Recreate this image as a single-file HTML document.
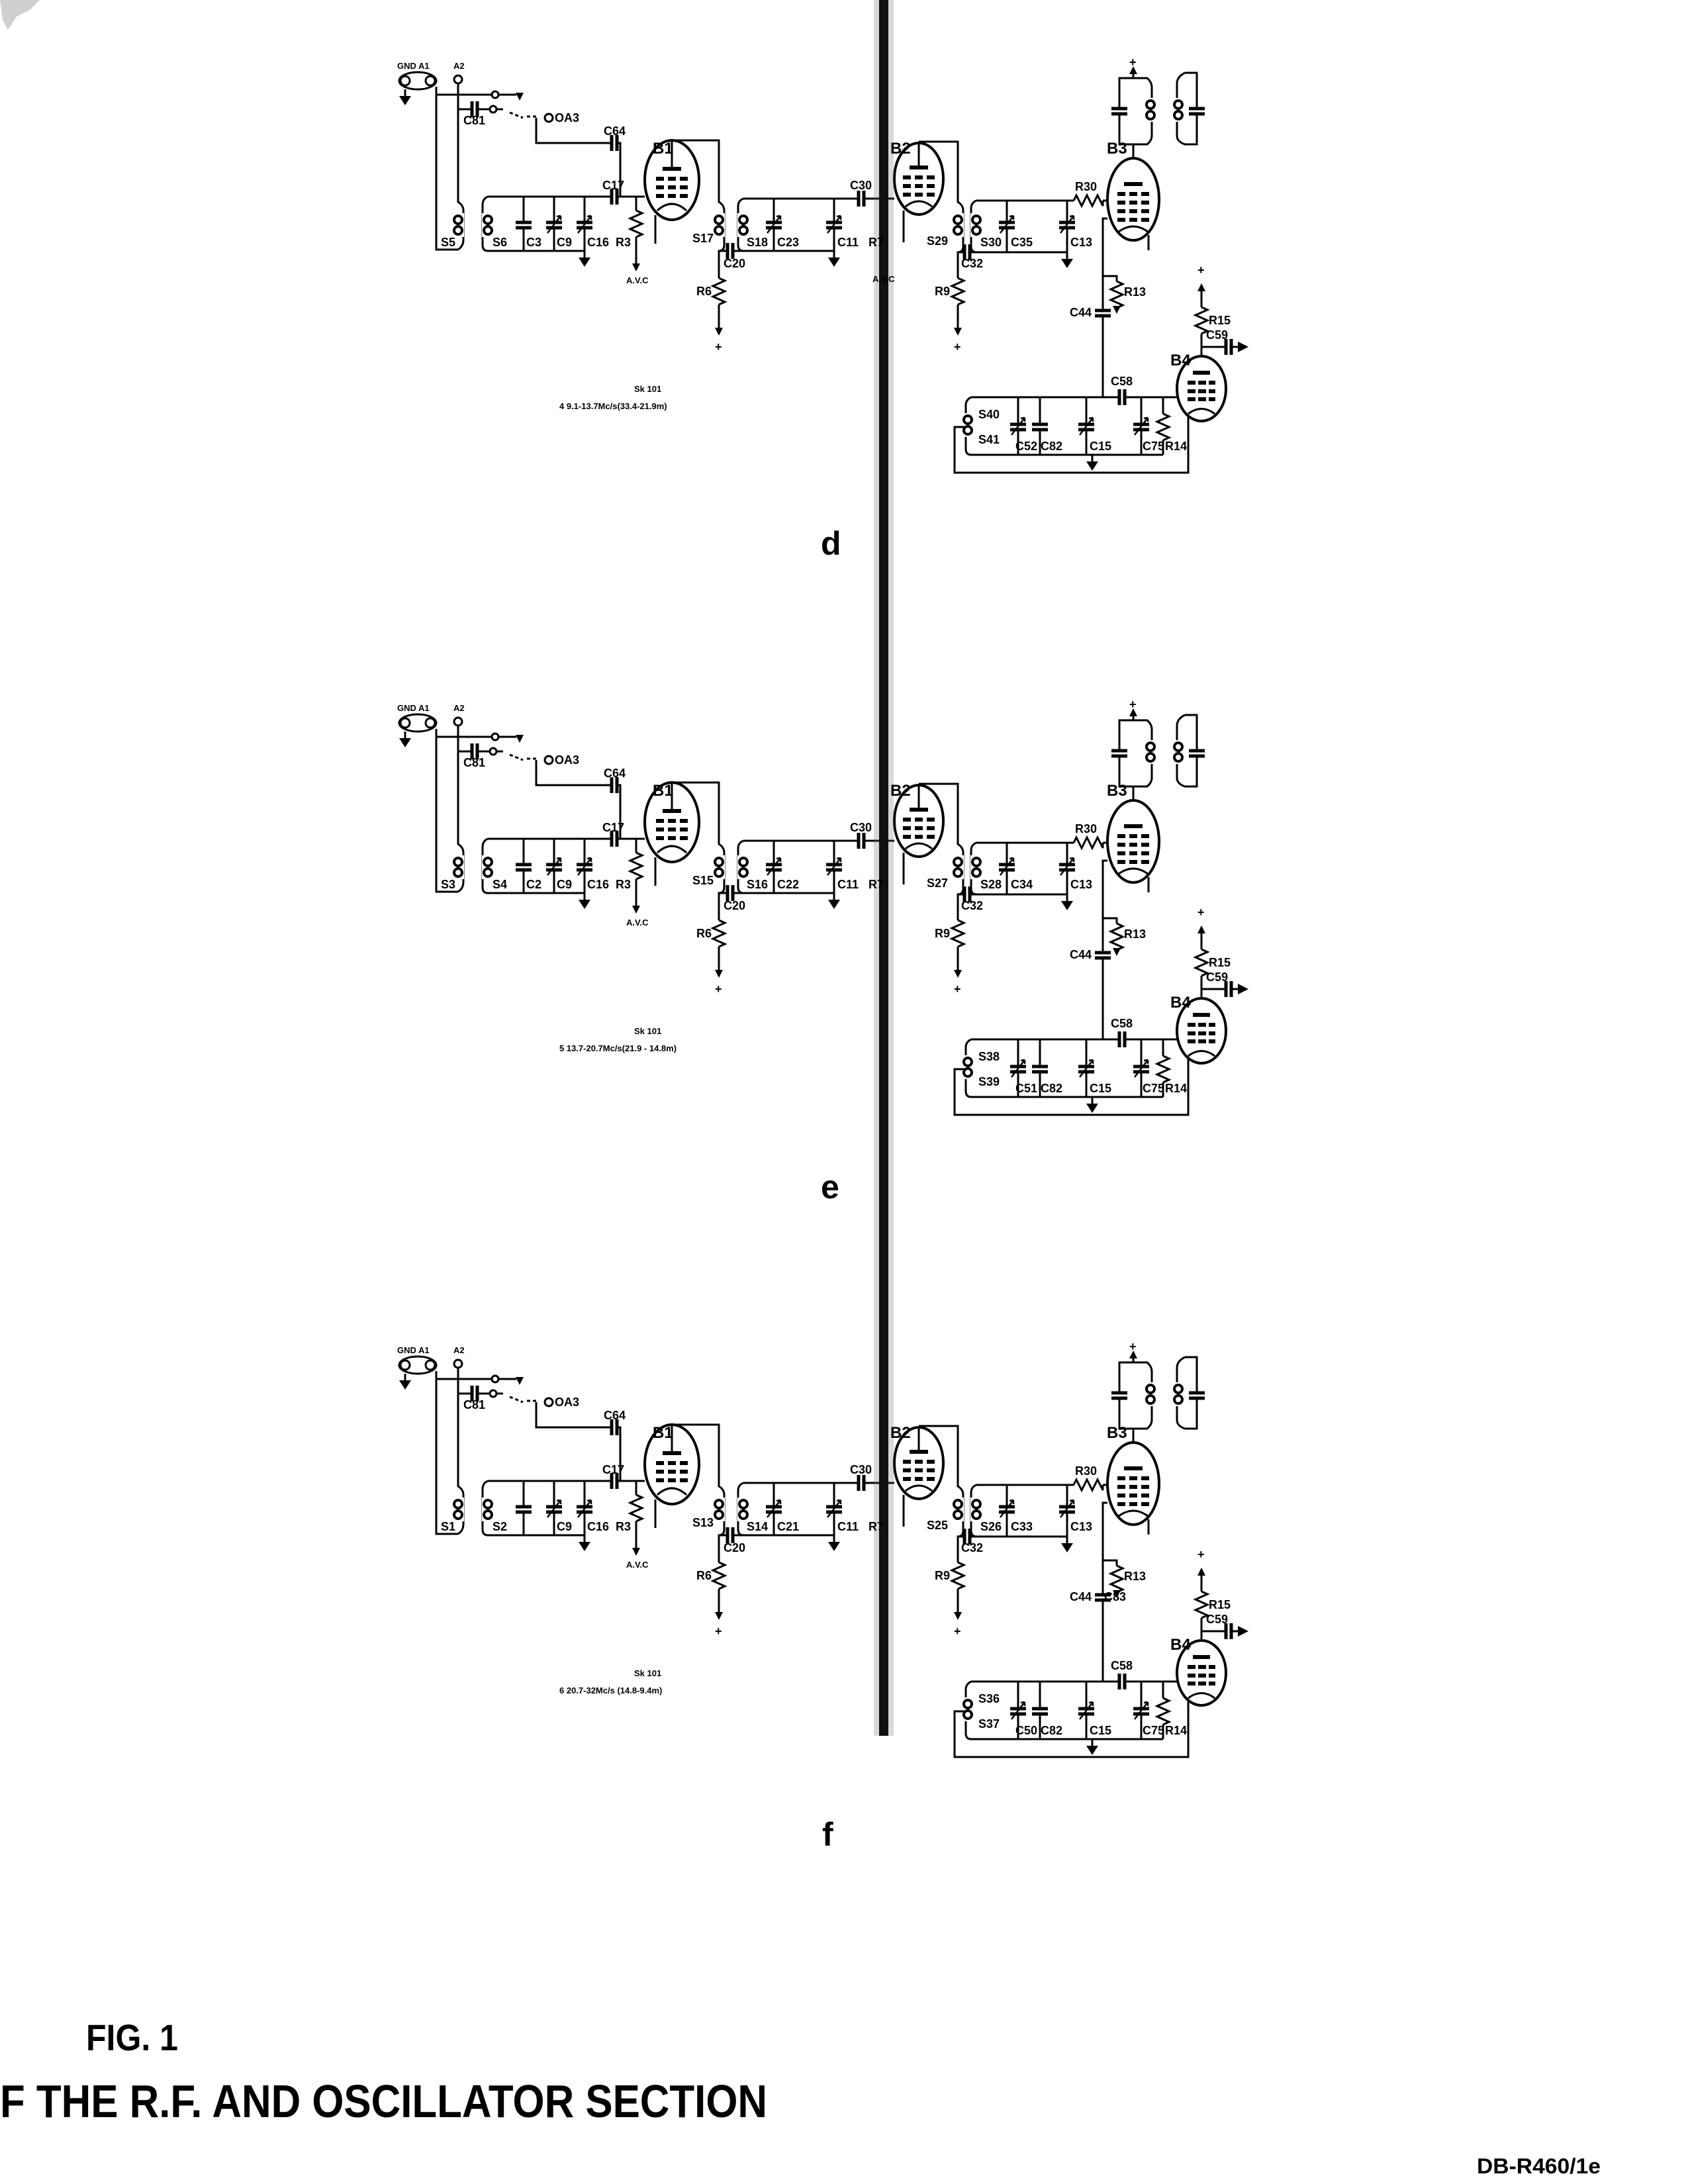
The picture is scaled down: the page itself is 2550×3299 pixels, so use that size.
<!DOCTYPE html>
<html><head><meta charset="utf-8"><style>
html,body{margin:0;padding:0;background:#fff}
svg{display:block}
text{font-family:"Liberation Sans",sans-serif;font-weight:bold;fill:#000}
.l{font-size:18px}
.s{font-size:13px}
</style></head><body>
<svg width="2550" height="3299" viewBox="0 0 2550 3299" xmlns="http://www.w3.org/2000/svg">
<defs>
<g id="gnd"><path d="M0,0 V10" stroke="#000" stroke-width="3"/><path d="M-9,10 H9 L0,24 Z" fill="#000" stroke="none"/></g>
<g id="up"><path d="M-6,12 L0,0 L6,12 Z" fill="#000" stroke="none"/></g>
<g id="dn"><path d="M-6,0 L0,12 L6,0 Z" fill="#000" stroke="none"/></g>
<g id="rv"><rect x="-10" y="0" width="20" height="40" fill="#fff" stroke="none"/><path d="M0,0 l9,4 l-18,8 l18,8 l-18,8 l18,8 l-9,4" fill="none" stroke="#000" stroke-width="3"/></g>
<g id="rh"><rect x="0" y="-10" width="44" height="20" fill="#fff" stroke="none"/><path d="M0,0 l4,-8 l8,16 l8,-16 l8,16 l8,-16 l8,16 l0,-8" fill="none" stroke="#000" stroke-width="3"/></g>
<g id="ch"><rect x="-13" y="-5" width="26" height="10" fill="#fff" stroke="none"/><path d="M-12,-4 H12 M-12,4 H12" stroke="#000" stroke-width="5"/></g>
<g id="cv"><rect x="-5" y="-13" width="10" height="26" fill="#fff" stroke="none"/><path d="M-4,-12 V12 M4,-12 V12" stroke="#000" stroke-width="5"/></g>
<g id="tr"><path d="M-10,12 L10,-14 M10,-14 l-6,1 M10,-14 l0,6" stroke="#000" stroke-width="2.5" fill="none"/></g>
<g id="coil"><rect x="-9" y="-4" width="18" height="36" fill="#fff" stroke="none"/><circle cx="0" cy="6" r="6" fill="none" stroke="#000" stroke-width="4"/><circle cx="0" cy="22" r="6" fill="none" stroke="#000" stroke-width="4"/></g>
<g id="tube1" fill="#000" stroke="none">
 <rect x="-14" y="-20" width="28" height="6"/>
 <rect x="-24" y="-5" width="12" height="6"/><rect x="-6" y="-5" width="12" height="6"/><rect x="12" y="-5" width="12" height="6"/>
 <rect x="-24" y="8" width="12" height="6"/><rect x="-6" y="8" width="12" height="6"/><rect x="12" y="8" width="12" height="6"/>
 <rect x="-24" y="21" width="12" height="6"/><rect x="-6" y="21" width="12" height="6"/><rect x="12" y="21" width="12" height="6"/>
</g>

<g id="sec" stroke="#000" stroke-width="3" fill="none">
 <ellipse cx="631" cy="122" rx="28" ry="13"/>
 <circle cx="612" cy="122" r="7"/><circle cx="650" cy="122" r="7"/><circle cx="692" cy="120" r="6"/>
 <use href="#gnd" x="612" y="135"/>
 <path d="M659,131 V377 H692"/>
 <path d="M692,126 V305 Q700,310 700,318 V362 Q700,372 692,377"/>
 <use href="#coil" x="692" y="326"/>
 <path d="M659,143 H780"/><circle cx="748" cy="143" r="5" fill="#fff"/>
 <use href="#dn" x="785" y="140"/>
 <path d="M692,165 H760"/><use href="#cv" x="717" y="165"/><circle cx="745" cy="165" r="5" fill="#fff"/>
 <path d="M770,170 L790,178 M796,176 H812" stroke-dasharray="5 4"/>
 <circle cx="829" cy="178" r="6"/>
 <path d="M810,178 V216 H937 V297"/>
 <use href="#cv" x="928" y="216"/>
 <path d="M737,297 H974"/>
 <use href="#cv" x="928" y="297"/>
 <path d="M737,297 Q729,300 729,310 V370 Q729,379 737,379 H883"/>
 <use href="#coil" x="737" y="326"/>
 <path d="M791,297 V379 M837,297 V379 M883,297 V379"/>
 <use href="#ch" x="791" y="340"/><use href="#ch" x="837" y="340"/><use href="#tr" x="837" y="340"/>
 <use href="#ch" x="883" y="340"/><use href="#tr" x="883" y="340"/>
 <use href="#gnd" x="883" y="379"/>
 <path d="M961,297 V400"/><use href="#rv" x="961" y="318"/><use href="#dn" x="961" y="398"/>
 <ellipse cx="1015" cy="272" rx="41" ry="60" stroke-width="4"/>
 <use href="#tube1" x="1015" y="272"/>
 <path d="M993,318 Q1015,298 1037,318"/>
 <path d="M990,325 V368"/>
 <path d="M1015,212 V252"/>
 <path d="M1015,212 H1086 V305 Q1094,310 1094,318 V370 Q1094,379 1086,379 V500"/>
 <use href="#coil" x="1086" y="326"/>
 <use href="#rv" x="1086" y="420"/><use href="#dn" x="1086" y="495"/>
 <path d="M1086,379 H1123"/><use href="#cv" x="1103" y="379"/>
 <path d="M1123,300 Q1115,303 1115,312 V370 Q1115,379 1123,379 H1260"/>
 <use href="#coil" x="1123" y="326"/>
 <path d="M1123,300 H1351"/>
 <use href="#cv" x="1301" y="300"/>
 <path d="M1169,300 V379 M1260,300 V379"/>
 <use href="#ch" x="1169" y="340"/><use href="#tr" x="1169" y="340"/>
 <use href="#ch" x="1260" y="340"/><use href="#tr" x="1260" y="340"/>
 <use href="#gnd" x="1260" y="379"/>
 <ellipse cx="1388" cy="270" rx="37" ry="54" stroke-width="4"/>
 <use href="#tube1" x="1388" y="270"/>
 <path d="M1368,312 Q1388,296 1408,312"/>
 <path d="M1365,318 V366"/>
 <path d="M1388,214 V250"/>
 <path d="M1388,214 H1447 V305 Q1455,310 1455,318 V372 Q1455,381 1447,381 V500"/>
 <use href="#coil" x="1447" y="326"/>
 <use href="#rv" x="1447" y="420"/><use href="#dn" x="1447" y="495"/>
 <path d="M1447,381 H1475"/><use href="#cv" x="1461" y="381"/>
 <path d="M1475,303 Q1467,306 1467,315 V372 Q1467,381 1475,381 H1612"/>
 <use href="#coil" x="1475" y="326"/>
 <path d="M1475,303 H1673"/>
 <use href="#rh" x="1622" y="303"/>
 <path d="M1521,303 V381 M1612,303 V381"/>
 <use href="#ch" x="1521" y="340"/><use href="#tr" x="1521" y="340"/>
 <use href="#ch" x="1612" y="340"/><use href="#tr" x="1612" y="340"/>
 <use href="#gnd" x="1612" y="381"/>
 <ellipse cx="1712" cy="301" rx="39" ry="62" stroke-width="4"/>
 <use href="#tube1" x="1712" y="295"/>
 <g fill="#000" stroke="none"><rect x="1688" y="329" width="12" height="6"/><rect x="1706" y="329" width="12" height="6"/><rect x="1724" y="329" width="12" height="6"/></g>
 <path d="M1690,350 Q1712,334 1734,350"/>
 <path d="M1735,355 V378"/>
 <path d="M1712,239 V218"/>
 <path d="M1712,218 H1691 V118 H1712 V104 M1712,118 H1733 Q1740,124 1740,132 V205 Q1740,212 1733,218 H1712"/>
 <use href="#ch" x="1691" y="168"/><use href="#coil" x="1738" y="152"/>
 <path d="M1790,110 Q1778,116 1778,126 V205 Q1778,214 1790,218 H1808 V110 H1790"/>
 <use href="#coil" x="1780" y="152"/><use href="#ch" x="1808" y="168"/>
 <use href="#up" x="1712" y="100"/>
 <path d="M1673,330 H1666 V600"/>
 <path d="M1666,417 H1687 V460"/><use href="#rv" x="1687" y="425"/><use href="#dn" x="1687" y="462"/>
 <use href="#ch" x="1666" y="473"/>
 <ellipse cx="1815" cy="587" rx="37" ry="49" stroke-width="4"/>
 <g fill="#000" stroke="none"><rect x="1802" y="560" width="26" height="6"/>
 <rect x="1794" y="575" width="12" height="6"/><rect x="1810" y="575" width="12" height="6"/><rect x="1826" y="575" width="10" height="6"/>
 <rect x="1794" y="588" width="12" height="6"/><rect x="1810" y="588" width="12" height="6"/><rect x="1826" y="588" width="10" height="6"/>
 <rect x="1794" y="600" width="12" height="6"/><rect x="1810" y="600" width="12" height="6"/><rect x="1826" y="600" width="10" height="6"/></g>
 <path d="M1795,625 Q1815,610 1835,625"/>
 <path d="M1815,538 V430"/><use href="#rv" x="1815" y="464"/><use href="#up" x="1815" y="428"/>
 <path d="M1815,524 H1870"/><use href="#cv" x="1856" y="524"/>
 <path d="M1870,516 L1886,524 L1870,532 Z" fill="#000" stroke="none"/>
 <path d="M1467,600 H1778"/>
 <use href="#cv" x="1695" y="600"/>
 <path d="M1467,600 Q1459,604 1459,612 V678 Q1459,687 1467,687 H1757"/>
 <use href="#coil" x="1462" y="628"/>
 <path d="M1538,600 V687 M1571,600 V687 M1641,600 V687 M1724,600 V687 M1757,600 V687"/>
 <use href="#ch" x="1538" y="645"/><use href="#tr" x="1538" y="645"/>
 <use href="#ch" x="1571" y="645"/>
 <use href="#ch" x="1641" y="645"/><use href="#tr" x="1641" y="645"/>
 <use href="#ch" x="1724" y="645"/><use href="#tr" x="1724" y="645"/>
 <use href="#rv" x="1757" y="625"/>
 <use href="#gnd" x="1650" y="687"/>
 <path d="M1458,645 H1442 V714 H1795 V630"/>
 <path d="M1335,300 V400"/>
</g>
</defs>

<path d="M0,0 H60 L45,15 L25,25 L12,45 L4,30 Z" fill="#888" opacity="0.4"/>

<use href="#sec"/>
<use href="#sec" y="970"/>
<use href="#sec" y="1940"/>

<rect x="1320" y="0" width="30" height="2622" fill="#666" opacity="0.25"/>
<rect x="1328" y="0" width="14" height="2622" fill="#111"/>

<g class="l">
<text x="600" y="104" class="s">GND A1</text><text x="685" y="104" class="s">A2</text>
<text x="700" y="188">C81</text><text x="838" y="184">OA3</text>
<text x="912" y="204">C64</text><text x="986" y="232" style="font-size:24px">B1</text>
<text x="910" y="286">C17</text>
<text x="666" y="372">S5</text><text x="744" y="372">S6</text><text x="795" y="372">C3</text><text x="841" y="372">C9</text><text x="887" y="372">C16</text><text x="930" y="372">R3</text>
<text x="946" y="428" class="s">A.V.C</text>
<text x="1046" y="366">S17</text><text x="1093" y="404">C20</text><text x="1052" y="446">R6</text><text x="1080" y="530">+</text>
<text x="1128" y="372">S18</text><text x="1174" y="372">C23</text><text x="1265" y="372">C11</text>
<text x="1284" y="286">C30</text><text x="1312" y="372">R7</text><text x="1345" y="232" style="font-size:24px">B2</text>
<text x="1400" y="370">S29</text><text x="1481" y="372">S30</text><text x="1527" y="372">C35</text><text x="1617" y="372">C13</text>
<text x="1452" y="404">C32</text><text x="1412" y="446">R9</text><text x="1441" y="530">+</text>
<text x="1624" y="288">R30</text><text x="1672" y="232" style="font-size:24px">B3</text><text x="1706" y="100">+</text>
<text x="1698" y="447">R13</text><text x="1616" y="478">C44</text>
<text x="1809" y="414">+</text><text x="1826" y="490">R15</text><text x="1822" y="512">C59</text>
<text x="1768" y="552" style="font-size:24px">B4</text><text x="1678" y="582">C58</text>
<text x="1478" y="632">S40</text><text x="1478" y="670">S41</text>
<text x="1534" y="680">C52</text><text x="1572" y="680">C82</text><text x="1646" y="680">C15</text><text x="1726" y="680">C75</text><text x="1760" y="680">R14</text>
<text x="1318" y="426" class="s">A.V.C</text>
<text x="958" y="592" class="s">Sk 101</text>
<text x="845" y="618" class="s">4   9.1-13.7Mc/s(33.4-21.9m)</text>
<text x="1240" y="838" style="font-size:50px">d</text>
</g>

<g class="l" transform="translate(0,970)">
<text x="600" y="104" class="s">GND A1</text><text x="685" y="104" class="s">A2</text>
<text x="700" y="188">C81</text><text x="838" y="184">OA3</text>
<text x="912" y="204">C64</text><text x="986" y="232" style="font-size:24px">B1</text>
<text x="910" y="286">C17</text>
<text x="666" y="372">S3</text><text x="744" y="372">S4</text><text x="795" y="372">C2</text><text x="841" y="372">C9</text><text x="887" y="372">C16</text><text x="930" y="372">R3</text>
<text x="946" y="428" class="s">A.V.C</text>
<text x="1046" y="366">S15</text><text x="1093" y="404">C20</text><text x="1052" y="446">R6</text><text x="1080" y="530">+</text>
<text x="1128" y="372">S16</text><text x="1174" y="372">C22</text><text x="1265" y="372">C11</text>
<text x="1284" y="286">C30</text><text x="1312" y="372">R7</text><text x="1345" y="232" style="font-size:24px">B2</text>
<text x="1400" y="370">S27</text><text x="1481" y="372">S28</text><text x="1527" y="372">C34</text><text x="1617" y="372">C13</text>
<text x="1452" y="404">C32</text><text x="1412" y="446">R9</text><text x="1441" y="530">+</text>
<text x="1624" y="288">R30</text><text x="1672" y="232" style="font-size:24px">B3</text><text x="1706" y="100">+</text>
<text x="1698" y="447">R13</text><text x="1616" y="478">C44</text>
<text x="1809" y="414">+</text><text x="1826" y="490">R15</text><text x="1822" y="512">C59</text>
<text x="1768" y="552" style="font-size:24px">B4</text><text x="1678" y="582">C58</text>
<text x="1478" y="632">S38</text><text x="1478" y="670">S39</text>
<text x="1534" y="680">C51</text><text x="1572" y="680">C82</text><text x="1646" y="680">C15</text><text x="1726" y="680">C75</text><text x="1760" y="680">R14</text>
<text x="958" y="592" class="s">Sk 101</text>
<text x="845" y="618" class="s">5   13.7-20.7Mc/s(21.9 - 14.8m)</text>
<text x="1240" y="840" style="font-size:50px">e</text>
</g>

<g class="l" transform="translate(0,1940)">
<text x="600" y="104" class="s">GND A1</text><text x="685" y="104" class="s">A2</text>
<text x="700" y="188">C81</text><text x="838" y="184">OA3</text>
<text x="912" y="204">C64</text><text x="986" y="232" style="font-size:24px">B1</text>
<text x="910" y="286">C17</text>
<text x="666" y="372">S1</text><text x="744" y="372">S2</text><text x="841" y="372">C9</text><text x="887" y="372">C16</text><text x="930" y="372">R3</text>
<text x="946" y="428" class="s">A.V.C</text>
<text x="1046" y="366">S13</text><text x="1093" y="404">C20</text><text x="1052" y="446">R6</text><text x="1080" y="530">+</text>
<text x="1128" y="372">S14</text><text x="1174" y="372">C21</text><text x="1265" y="372">C11</text>
<text x="1284" y="286">C30</text><text x="1312" y="372">R7</text><text x="1345" y="232" style="font-size:24px">B2</text>
<text x="1400" y="370">S25</text><text x="1481" y="372">S26</text><text x="1527" y="372">C33</text><text x="1617" y="372">C13</text>
<text x="1452" y="404">C32</text><text x="1412" y="446">R9</text><text x="1441" y="530">+</text>
<text x="1624" y="288">R30</text><text x="1672" y="232" style="font-size:24px">B3</text><text x="1706" y="100">+</text>
<text x="1698" y="447">R13</text><text x="1616" y="478">C44</text><text x="1668" y="478">C83</text>
<text x="1809" y="414">+</text><text x="1826" y="490">R15</text><text x="1822" y="512">C59</text>
<text x="1768" y="552" style="font-size:24px">B4</text><text x="1678" y="582">C58</text>
<text x="1478" y="632">S36</text><text x="1478" y="670">S37</text>
<text x="1534" y="680">C50</text><text x="1572" y="680">C82</text><text x="1646" y="680">C15</text><text x="1726" y="680">C75</text><text x="1760" y="680">R14</text>
<text x="958" y="592" class="s">Sk 101</text>
<text x="845" y="618" class="s">6   20.7-32Mc/s (14.8-9.4m)</text>
<text x="1242" y="848" style="font-size:50px">f</text>
</g>

<text x="130" y="3097" style="font-size:56px" textLength="139" lengthAdjust="spacingAndGlyphs">FIG. 1</text>
<text x="0" y="3198" style="font-size:70px" textLength="1159" lengthAdjust="spacingAndGlyphs">F THE R.F. AND OSCILLATOR SECTION</text>
<text x="2231" y="3283" style="font-size:32px" textLength="187" lengthAdjust="spacingAndGlyphs">DB-R460/1e</text>
</svg>
</body></html>
